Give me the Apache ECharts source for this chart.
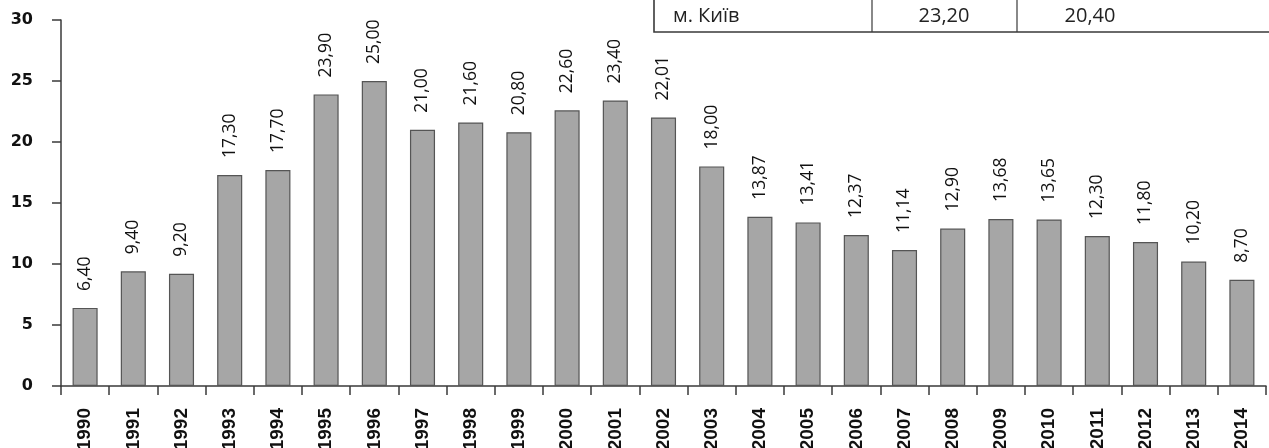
<!DOCTYPE html>
<html>
<head>
<meta charset="utf-8">
<script src="https://cdn.jsdelivr.net/npm/echarts@6/dist/echarts.min.js"></script>
<style>
  html, body { margin: 0; padding: 0; background: #fff; }
  #chart { width: 1269px; height: 448px; }
</style>
</head>
<body>
<div id="chart"></div>
<script>
// Years along the category axis
const years = ['1990','1991','1992','1993','1994','1995','1996','1997','1998','1999',
  '2000','2001','2002','2003','2004','2005','2006','2007','2008','2009',
  '2010','2011','2012','2013','2014'];

// Yearly values, one per bar
const values = [6.40, 9.40, 9.20, 17.30, 17.70, 23.90, 25.00, 21.00, 21.60, 20.80,
  22.60, 23.40, 22.01, 18.00, 13.87, 13.41, 12.37, 11.14, 12.90, 13.68,
  13.65, 12.30, 11.80, 10.20, 8.70];

// Summary row shown in the table strip at the top
const tableRow = ['м. Київ', '23,20', '20,40'];

// Value axis range
const yMin = 0, yMax = 30, yStep = 5;

const fmt = v => v.toFixed(2).replace('.', ',');

const chart = echarts.init(document.getElementById('chart'), null, { renderer: 'canvas' });

const lineColor = '#3a3a3a';
const textFamily = '"Open Sans", sans-serif';
const tableFont = { fontFamily: textFamily, fontSize: 20, fill: '#222' };

chart.setOption({
  animation: false,
  backgroundColor: '#fff',
  grid: { left: 61, right: 3, top: 20, bottom: 62, containLabel: false, outerBoundsMode: 'none' },
  xAxis: {
    type: 'category',
    data: years,
    boundaryGap: true,
    axisLine: { lineStyle: { color: lineColor, width: 1.5 } },
    axisTick: { show: true, alignWithLabel: false, length: 9, inside: false,
      lineStyle: { color: lineColor, width: 1.5 } },
    axisLabel: {
      interval: 0, rotate: 90, margin: 22,
      fontFamily: '"Liberation Sans", Arial, sans-serif', fontWeight: 'bold', fontSize: 19, color: '#111'
    }
  },
  yAxis: {
    type: 'value',
    min: yMin, max: yMax, interval: yStep,
    axisLine: { show: true, lineStyle: { color: lineColor, width: 1.5 } },
    axisTick: { show: true, length: 9, lineStyle: { color: lineColor, width: 1.5 } },
    splitLine: { show: false },
    axisLabel: {
      margin: 28, fontFamily: '"DejaVu Sans", sans-serif', fontWeight: 'bold', fontSize: 16, color: '#111'
    }
  },
  series: [{
    type: 'bar',
    data: values,
    barWidth: '52%',
    itemStyle: { color: '#a6a6a6', borderColor: '#555555', borderWidth: 1.2 },
    label: {
      show: true,
      position: 'top',
      rotate: 90,
      align: 'left',
      verticalAlign: 'middle',
      distance: 17,
      fontFamily: textFamily,
      fontSize: 17.5,
      color: '#111',
      formatter: p => fmt(p.value)
    }
  }],
  graphic: [
    // table strip: outer frame, column dividers and cell texts
    { type: 'polyline', shape: { points: [[654, -2], [654, 32], [1275, 32]] },
      style: { stroke: lineColor, lineWidth: 1.6, fill: null } },
    { type: 'line', shape: { x1: 872, y1: -2, x2: 872, y2: 32 },
      style: { stroke: lineColor, lineWidth: 1.2 } },
    { type: 'line', shape: { x1: 1017, y1: -2, x2: 1017, y2: 32 },
      style: { stroke: lineColor, lineWidth: 1.2 } },
    { type: 'text', x: 673, y: 16,
      style: Object.assign({ text: tableRow[0], textAlign: 'left', textVerticalAlign: 'middle' }, tableFont) },
    { type: 'text', x: 944, y: 16,
      style: Object.assign({ text: tableRow[1], textAlign: 'center', textVerticalAlign: 'middle' }, tableFont) },
    { type: 'text', x: 1090, y: 16,
      style: Object.assign({ text: tableRow[2], textAlign: 'center', textVerticalAlign: 'middle' }, tableFont) }
  ]
});
</script>
</body>
</html>
